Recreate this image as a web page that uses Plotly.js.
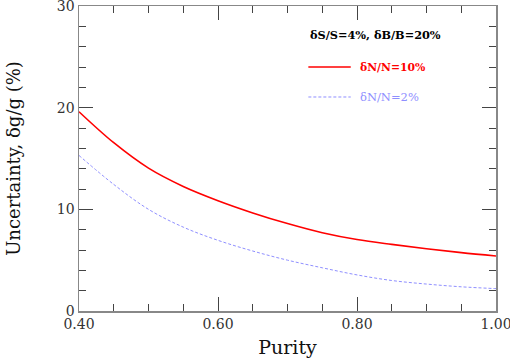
<!DOCTYPE html>
<html>
<head>
<meta charset="utf-8">
<script src="https://cdn.plot.ly/plotly-3.0.1.min.js"></script>
<style>
  html, body { margin: 0; padding: 0; background: #fff; }
  #chart { width: 510px; height: 358px; }
</style>
</head>
<body>
<div id="chart"></div>
<script>
// purity values and the two uncertainty curves (in %)
var purity = [0.40, 0.45, 0.50, 0.55, 0.60, 0.65, 0.70, 0.75, 0.80, 0.85, 0.90, 0.95, 1.00];
var unc_dn10 = [19.6, 16.55, 14.05, 12.25, 10.85, 9.65, 8.6, 7.7, 7.03, 6.55, 6.12, 5.74, 5.41];
var unc_dn2 = [15.3, 12.45, 10.0, 8.25, 6.95, 5.9, 5.0, 4.25, 3.55, 3.0, 2.65, 2.38, 2.2];

var header = "δS/S=4%, δB/B=20%";
var name10 = "δN/N=10%";
var name2 = "δN/N=2%";

var serif = "DejaVu Serif";

var trace1 = {
  x: purity,
  y: unc_dn10,
  type: "scatter",
  mode: "lines",
  name: name10,
  line: { color: "#ff0000", width: 1.6, shape: "spline" },
};
var trace2 = {
  x: purity,
  y: unc_dn2,
  type: "scatter",
  mode: "lines",
  name: name2,
  line: { color: "#8f8fff", width: 1, dash: "3px,2px", shape: "spline" },
};

var axisStyle = {
  showgrid: false,
  zeroline: false,
  showline: true,
  linecolor: "#888888",
  linewidth: 1.5,
  mirror: "allticks",
  ticks: "inside",
  ticklen: 14,
  tickwidth: 1,
  tickcolor: "#444444",
  ticklabeloverflow: "allow",
  tickfont: { family: serif, size: 14, color: "#333333" },
};

var layout = {
  width: 510,
  height: 358,
  margin: { l: 79, r: 14, t: 6, b: 47 },
  paper_bgcolor: "#ffffff",
  plot_bgcolor: "#ffffff",
  showlegend: false,
  xaxis: Object.assign({}, axisStyle, {
    range: [0.4, 1.0],
    tickvals: [0.4, 0.6, 0.8, 1.0],
    ticktext: ["0.40", "0.60", "0.80", "1.00"],
    minor: { ticks: "inside", ticklen: 7, dtick: 0.05, tickcolor: "#444444", tickwidth: 1 },
    title: { text: "Purity", font: { family: serif, size: 19, color: "#111111" }, standoff: 12 },
  }),
  yaxis: Object.assign({}, axisStyle, {
    range: [0, 30],
    tickvals: [0, 10, 20, 30],
    minor: { ticks: "inside", ticklen: 7, dtick: 2, tickcolor: "#444444", tickwidth: 1 },
    title: { text: "Uncertainty, δg/g (%)", font: { family: serif, size: 18, color: "#111111" }, standoff: 31 },
  }),
  annotations: [
    {
      x: 0.730, y: 27.1, xref: "x", yref: "y", xanchor: "left", yanchor: "middle",
      text: "<b>" + header + "</b>", showarrow: false,
      font: { family: serif, size: 11.3, color: "#000000" },
    },
    {
      x: 0.801, y: 24.0, xref: "x", yref: "y", xanchor: "left", yanchor: "middle",
      text: "<b>" + name10 + "</b>", showarrow: false,
      font: { family: serif, size: 10.8, color: "#ff0000" },
    },
    {
      x: 0.801, y: 21.05, xref: "x", yref: "y", xanchor: "left", yanchor: "middle",
      text: name2, showarrow: false,
      font: { family: serif, size: 11.5, color: "#8f8fff" },
    },
  ],
  shapes: [
    { type: "line", xref: "x", yref: "y", x0: 0.730, x1: 0.791, y0: 24.0, y1: 24.0,
      line: { color: "#ff0000", width: 1.6 } },
    { type: "line", xref: "x", yref: "y", x0: 0.730, x1: 0.791, y0: 21.05, y1: 21.05,
      line: { color: "#8f8fff", width: 1, dash: "3px,2px" } },
  ],
};

Plotly.newPlot("chart", [trace1, trace2], layout, { displayModeBar: false, staticPlot: true });
</script>
</body>
</html>
